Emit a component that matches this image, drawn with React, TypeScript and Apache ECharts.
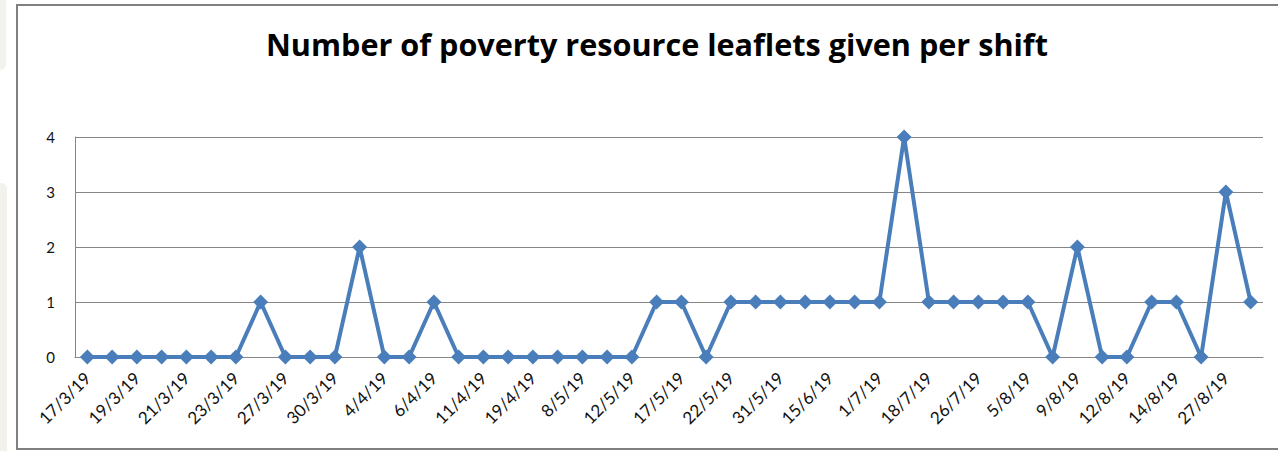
import React, { useEffect, useRef } from "react";
import * as echarts from "echarts";

const title = "Number of poverty resource leaflets given per shift";

const categories = [
  "17/3/19", "18/3/19", "19/3/19", "20/3/19", "21/3/19", "22/3/19", "23/3/19", "25/3/19",
  "27/3/19", "29/3/19", "30/3/19", "2/4/19", "4/4/19", "5/4/19", "6/4/19", "9/4/19",
  "11/4/19", "16/4/19", "19/4/19", "3/5/19", "8/5/19", "10/5/19", "12/5/19", "15/5/19",
  "17/5/19", "20/5/19", "22/5/19", "26/5/19", "31/5/19", "8/6/19", "15/6/19", "22/6/19",
  "1/7/19", "10/7/19", "18/7/19", "22/7/19", "26/7/19", "1/8/19", "5/8/19", "7/8/19",
  "9/8/19", "11/8/19", "12/8/19", "13/8/19", "14/8/19", "20/8/19", "27/8/19", "29/8/19",
];

const leaflets = [
  0, 0, 0, 0, 0, 0, 0, 1,
  0, 0, 0, 2, 0, 0, 1, 0,
  0, 0, 0, 0, 0, 0, 0, 1,
  1, 0, 1, 1, 1, 1, 1, 1,
  1, 4, 1, 1, 1, 1, 1, 0,
  2, 0, 0, 1, 1, 0, 3, 1,
];

const yTicks = [0, 1, 2, 3, 4];

export default function App() {
  const ref = useRef<HTMLDivElement>(null);
  useEffect(() => {
    if (!ref.current) return;
    const chart = echarts.init(ref.current, undefined, { renderer: "svg" });
    chart.setOption({
      animation: false,
      backgroundColor: "#ffffff",
      textStyle: { fontFamily: "Lato" },
      title: {
        text: title,
        left: 261,
        top: 23,
        textStyle: { fontFamily: "Open Sans", fontWeight: "bold", fontSize: 30.6, color: "#000000" },
      },
      graphic: [
        { type: "rect", shape: { x: -10, y: -10, width: 16, height: 80, r: 6 }, style: { fill: "#f2f1ec" } },
        { type: "rect", shape: { x: -10, y: 183, width: 17, height: 290, r: 6 }, style: { fill: "#f2f1ec" } },
        {
          type: "rect",
          shape: { x: 17, y: 5, width: 1300, height: 444 },
          style: { fill: "none", stroke: "#808080", lineWidth: 2 },
        },
      ],
      grid: { left: 75, right: 15, top: 137, bottom: 94, containLabel: false },
      xAxis: {
        type: "category",
        data: categories,
        boundaryGap: true,
        axisLine: { show: true, lineStyle: { color: "#868686", width: 1 } },
        axisTick: { show: false },
        axisLabel: {
          interval: 1,
          rotate: 45,
          fontSize: 17,
          color: "#111111",
          margin: 18,
          fontFamily: "Lato",
        },
        splitLine: { show: false },
      },
      yAxis: {
        type: "value",
        min: yTicks[0],
        max: yTicks[yTicks.length - 1],
        interval: 1,
        axisLine: { show: true, lineStyle: { color: "#868686", width: 1 } },
        axisTick: { show: false },
        axisLabel: {
          fontSize: 15,
          color: "#111111",
          margin: 8,
          padding: [0, 12, 0, 0],
          fontFamily: "Lato",
        },
        splitLine: { show: true, lineStyle: { color: "#868686", width: 1 } },
      },
      series: [
        {
          type: "line",
          data: leaflets,
          symbol: "diamond",
          symbolSize: 15,
          showSymbol: true,
          lineStyle: { color: "#4a7ebb", width: 4 },
          itemStyle: { color: "#4a7ebb" },
        },
      ],
    });
    return () => chart.dispose();
  }, []);
  return (
    <div
      ref={ref}
      style={{ position: "fixed", left: 0, top: 0, width: 1278, height: 451 }}
    />
  );
}
